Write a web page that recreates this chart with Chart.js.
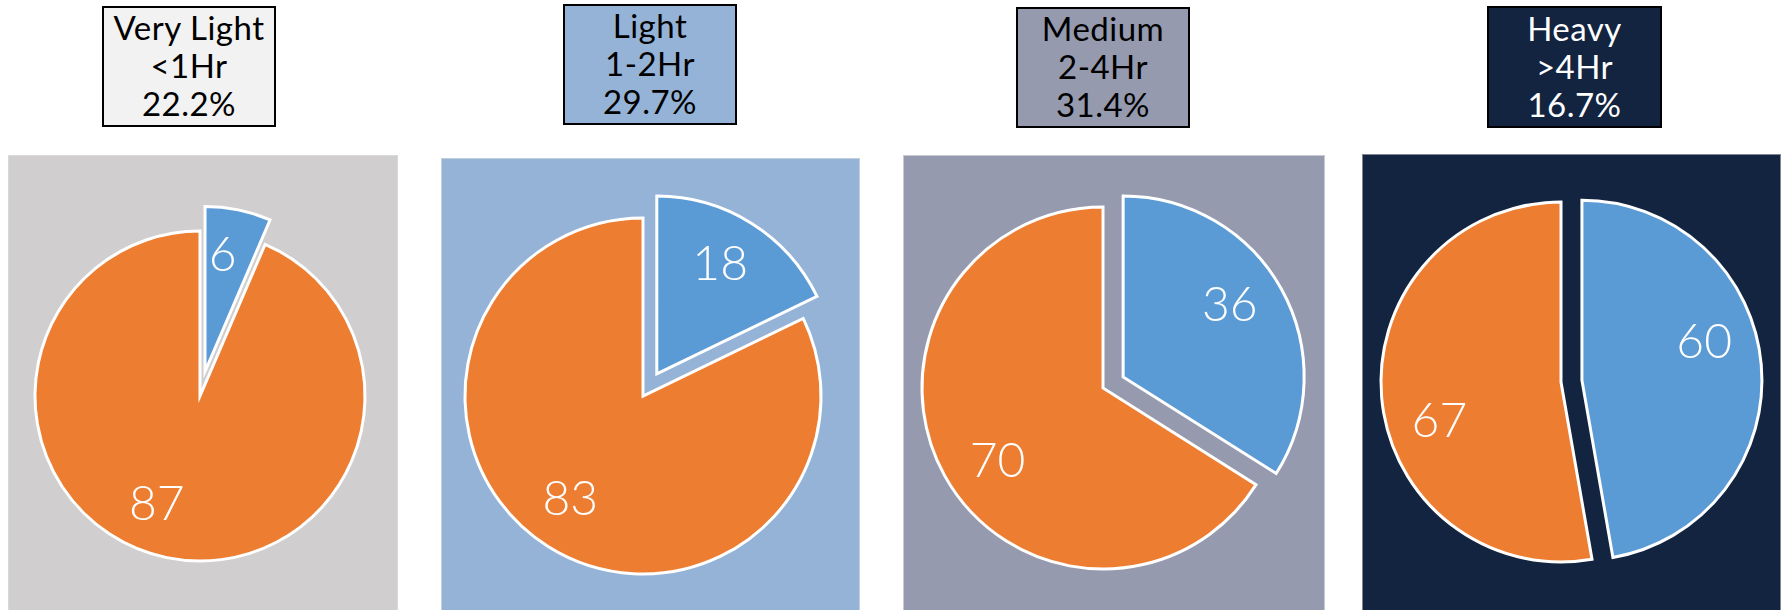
<!DOCTYPE html>
<html>
<head>
<meta charset="utf-8">
<script src="https://cdn.jsdelivr.net/npm/chart.js@4/dist/chart.umd.min.js"></script>
<style>
  body { margin: 0; width: 1783px; height: 610px; overflow: hidden; background: #fff; position: relative; font-family: Lato, sans-serif; }
  .panel { position: absolute; box-sizing: border-box; border: 1px solid; }
  .title { position: absolute; box-sizing: border-box; border: 2px solid #000; display: flex; flex-direction: column; justify-content: center; text-align: center; font-size: 33px; font-weight: 400; line-height: 38px; padding-bottom: 3px; letter-spacing: 0.5px; }
  .pie { position: absolute; }
</style>
</head>
<body>
<script>
const categories = ['Very Light', 'Light', 'Medium', 'Heavy'];
const hourRanges = ['<1Hr', '1-2Hr', '2-4Hr', '>4Hr'];
const shares = ['22.2%', '29.7%', '31.4%', '16.7%'];
const sliceNames = ['Blue', 'Orange'];
const blueValues = [6, 18, 36, 60];
const orangeValues = [87, 83, 70, 67];

// boxes, pie centre and radius, slice pull-out and label nudge (degrees)
const layout = [
  { panel: [8, 155, 390, 460], title: [102, 6, 174, 121], centre: [200, 396], r: 165, shift: 25, turn: [-3, 10], bg: '#d0cece', line: '#d9d9d9', box: '#f2f2f2', ink: '#000' },
  { panel: [441, 158, 419, 460], title: [563, 4, 174, 121], centre: [643, 396], r: 178, shift: 26, turn: [-2, 3], bg: '#95b3d7', line: '#c4cfdd', box: '#95b3d7', ink: '#000' },
  { panel: [903, 155, 422, 460], title: [1016, 7, 174, 121], centre: [1103, 388], r: 181, shift: 23, turn: [-5, -6], bg: '#959aae', line: '#c8cad3', box: '#959aae', ink: '#000' },
  { panel: [1362, 154, 419, 460], title: [1487, 6, 175, 122], centre: [1561, 382], r: 180, shift: 21, turn: [-12, -13], bg: '#12243f', line: '#7f8591', box: '#12243f', ink: '#fff' },
];

// pull slices out along their middle angle without growing them
const explode = {
  id: 'explode',
  beforeDatasetDraw(chart, { meta }, opts) {
    const { ctx } = chart;
    meta.data.forEach((arc, i) => {
      const mid = (arc.startAngle + arc.endAngle) / 2;
      const s = opts.shift[i] || 0;
      ctx.save();
      ctx.translate(Math.cos(mid) * s, Math.sin(mid) * s);
      arc.draw(ctx, chart.chartArea);
      ctx.restore();
    });
    return false;
  },
};

const sliceValues = {
  id: 'sliceValues',
  afterDatasetsDraw(chart, args, opts) {
    const { ctx } = chart;
    const meta = chart.getDatasetMeta(0);
    const shifts = chart.options.plugins.explode.shift;
    ctx.save();
    ctx.fillStyle = opts.color;
    ctx.font = opts.font;
    ctx.textAlign = 'center';
    ctx.textBaseline = 'middle';
    meta.data.forEach((arc, i) => {
      const mid = (arc.startAngle + arc.endAngle) / 2;
      const s = shifts[i] || 0;
      const cx = arc.x + Math.cos(mid) * s;
      const cy = arc.y + Math.sin(mid) * s;
      const a = mid + (opts.turn[i] || 0) * Math.PI / 180;
      const d = arc.outerRadius * opts.position;
      ctx.fillText(chart.data.datasets[0].data[i], cx + Math.cos(a) * d, cy + Math.sin(a) * d);
    });
    ctx.restore();
  },
};

layout.forEach((p, k) => {
  const panel = document.createElement('div');
  panel.className = 'panel';
  Object.assign(panel.style, {
    left: p.panel[0] + 'px', top: p.panel[1] + 'px', width: p.panel[2] + 'px', height: p.panel[3] + 'px',
    background: p.bg, borderColor: p.line,
  });
  document.body.appendChild(panel);

  const title = document.createElement('div');
  title.className = 'title';
  Object.assign(title.style, {
    left: p.title[0] + 'px', top: p.title[1] + 'px', width: p.title[2] + 'px', height: p.title[3] + 'px',
    background: p.box, color: p.ink,
  });
  [categories[k], hourRanges[k], shares[k]].forEach((line) => {
    const row = document.createElement('div');
    row.textContent = line;
    title.appendChild(row);
  });
  document.body.appendChild(title);

  const size = 2 * (p.r + 35);
  const wrap = document.createElement('div');
  wrap.className = 'pie';
  Object.assign(wrap.style, {
    width: size + 'px', height: size + 'px',
    left: (p.centre[0] - size / 2) + 'px', top: (p.centre[1] - size / 2) + 'px',
  });
  const canvas = document.createElement('canvas');
  wrap.appendChild(canvas);
  document.body.appendChild(wrap);

  new Chart(canvas, {
    type: 'pie',
    data: {
      labels: sliceNames,
      datasets: [{
        data: [blueValues[k], orangeValues[k]],
        backgroundColor: ['#5b9bd5', '#ed7d31'],
        borderColor: '#fff',
        borderWidth: 3,
        borderJoinStyle: 'miter',
      }],
    },
    options: {
      responsive: true,
      maintainAspectRatio: false,
      animation: false,
      events: [],
      radius: p.r,
      layout: { padding: 0 },
      plugins: {
        legend: { display: false },
        tooltip: { enabled: false },
        explode: { shift: [p.shift, 0] },
        sliceValues: { font: '300 48px Lato', color: '#fff', position: 0.71, turn: p.turn },
      },
    },
    plugins: [explode, sliceValues],
  });
});
</script>
</body>
</html>
